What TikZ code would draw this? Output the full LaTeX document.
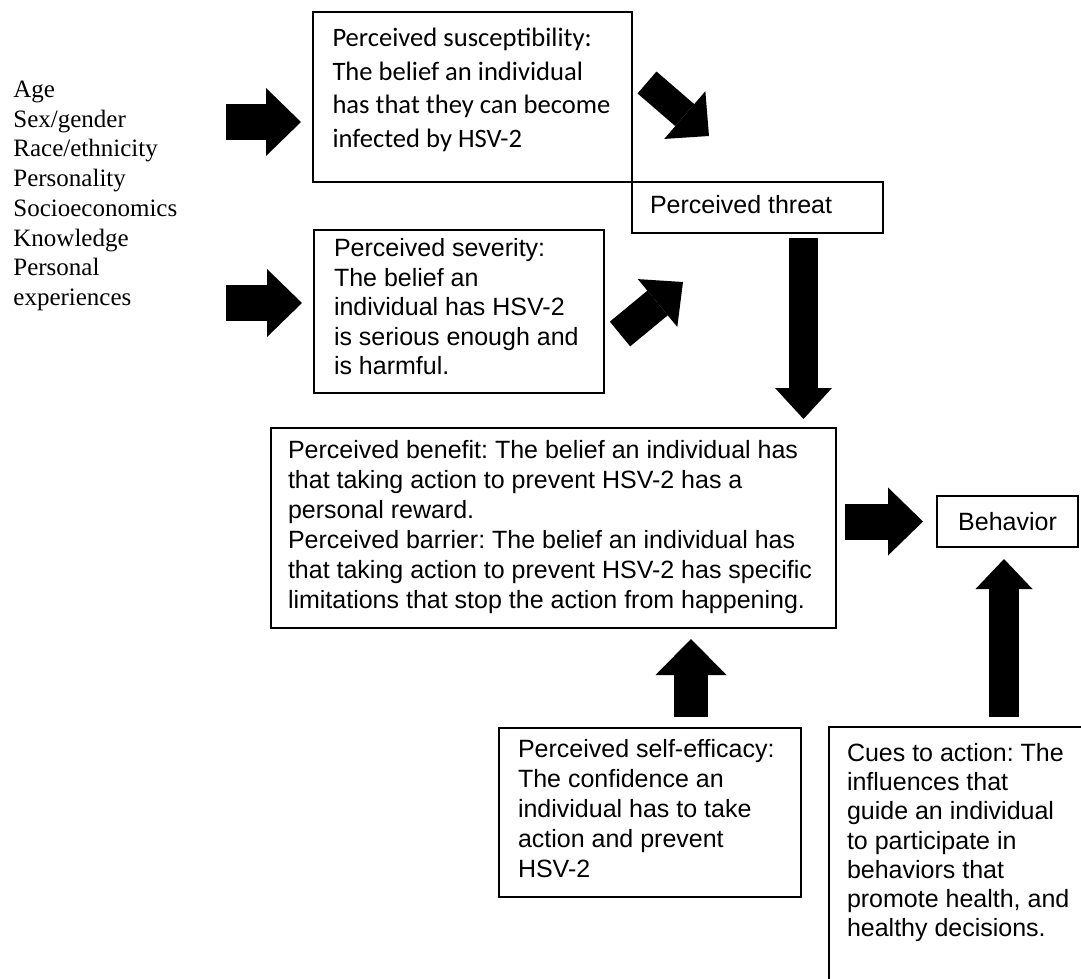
\documentclass[tikz,border=0pt]{standalone}
\usepackage{fontspec}
\setmainfont{Liberation Sans}
\newfontfamily\timesface{Liberation Serif}
\newfontfamily\calibriface{Carlito}
\usepackage{tikz}
\usetikzlibrary{arrows.meta,positioning,calc}
\frenchspacing

\begin{document}
\begin{tikzpicture}[x=0.5pt, y=-0.5pt,
    box/.style={draw, line width=0.9pt, outer sep=0pt, anchor=north west, align=flush left,
        text height=9pt, font=\fontsize{12.5}{14.8}\selectfont},
    blockarrow/.style n args={3}{line width=#1,
        -{Triangle[width=#2, length=#3, line width=0pt]}}]
    \useasboundingbox (0,0) rectangle (1081,979);
    \clip (0,0) rectangle (1081,979);

    % --- modifying factors (left) ---
    \node[anchor=base west, inner sep=0pt, align=flush left, text width=95pt,
        font=\timesface\fontsize{12.5}{14.85}\selectfont] (factors) at (13,97.6)
        {Age\\Sex/gender\\Race/ethnicity\\Personality\\Socioeconomics\\Knowledge\\Personal\\experiences};

    % --- susceptibility, threat, severity ---
    \node[box, line width=1.3pt, text width=140pt, inner xsep=9.75pt, inner ysep=8.35pt,
        text depth=59.3pt, font=\calibriface\fontsize{13.3}{16.75}\selectfont] (suscept) at (313,12)
        {Perceived susceptibility:\\The belief an individual\\has that they can become\\infected by HSV-2};
    \node[box, text width=107.5pt, inner xsep=9pt, inner ysep=6.75pt,
        text depth=3pt] (threat) at (suscept.south east) {Perceived threat};
    \node[box, text width=125pt, inner xsep=10pt, inner ysep=4.25pt,
        text depth=64pt] (severity) at (314,230)
        {Perceived severity:\\The belief an\\individual has HSV-2\\is serious enough and\\is harmful.};

    % --- benefit / barrier and behavior ---
    \node[box, text width=265.5pt, inner xsep=8.5pt, inner ysep=6.25pt, text depth=78.5pt,
        font=\fontsize{12.5}{15}\selectfont] (benefit) at (271,428)
        {Perceived benefit: The belief an individual has\\that taking action to prevent HSV-2 has a\\personal reward.\\Perceived barrier: The belief an individual has\\that taking action to prevent HSV-2 has specific\\limitations that stop the action from happening.};
    \node[box, anchor=center, align=center, minimum width=70.5pt,
        minimum height=25.5pt] (behavior) at (1007.5,521.5) {Behavior};

    % --- self-efficacy and cues ---
    \node[box, text width=132pt, inner xsep=9.5pt, inner ysep=5.75pt, text depth=64pt,
        font=\fontsize{12.5}{15}\selectfont] (efficacy) at (499,728)
        {Perceived self-efficacy:\\The confidence an\\individual has to take\\action and prevent\\HSV-2};
    \node[box, text width=115pt, inner xsep=9pt, inner ysep=8.25pt, text depth=113pt,
        font=\fontsize{12.5}{14.6}\selectfont] (cues) at (829,727)
        {Cues to action: The\\influences that\\guide an individual\\to participate in\\behaviors that\\promote health, and\\healthy decisions.};

    % --- block arrows ---
    \coordinate (a1) at (226,122);
    \coordinate (a2) at (226,303);
    \draw[blockarrow={18pt}{34pt}{17.5pt}, shorten >=6pt] (a1) -- (a1 -| suscept.west);
    \draw[blockarrow={18pt}{34pt}{17.5pt}, shorten >=6pt] (a2) -- (a2 -| severity.west);

    \coordinate (a3) at (647,82.5);
    \coordinate (a4) at (620,334);
    \draw[blockarrow={14.5pt}{31.5pt}{16pt}] (a3) -- ([shift={(77,-46)}]threat.north west);
    \draw[blockarrow={16pt}{31pt}{16.5pt}] (a4) -- ([shift={(51,49)}]threat.south west);

    \coordinate (a5) at (803.5,234);
    \draw[blockarrow={14.5pt}{28.5pt}{15.5pt}, shorten <=2pt, shorten >=4.5pt]
        (a5) -- (a5 |- benefit.north);
    \draw[blockarrow={18pt}{34pt}{17.5pt}, shorten <=4.5pt, shorten >=7pt]
        (benefit.east |- behavior) -- (behavior.west);

    \coordinate (a7) at (691,728);
    \coordinate (a8) at (1004,727);
    \draw[blockarrow={17pt}{35.5pt}{18pt}, shorten <=5.5pt, shorten >=5.5pt]
        (a7) -- (a7 |- benefit.south);
    \draw[blockarrow={15pt}{28.5pt}{15pt}, shorten <=5pt, shorten >=6pt]
        (a8) -- (a8 |- behavior.south);
\end{tikzpicture}
\end{document}
